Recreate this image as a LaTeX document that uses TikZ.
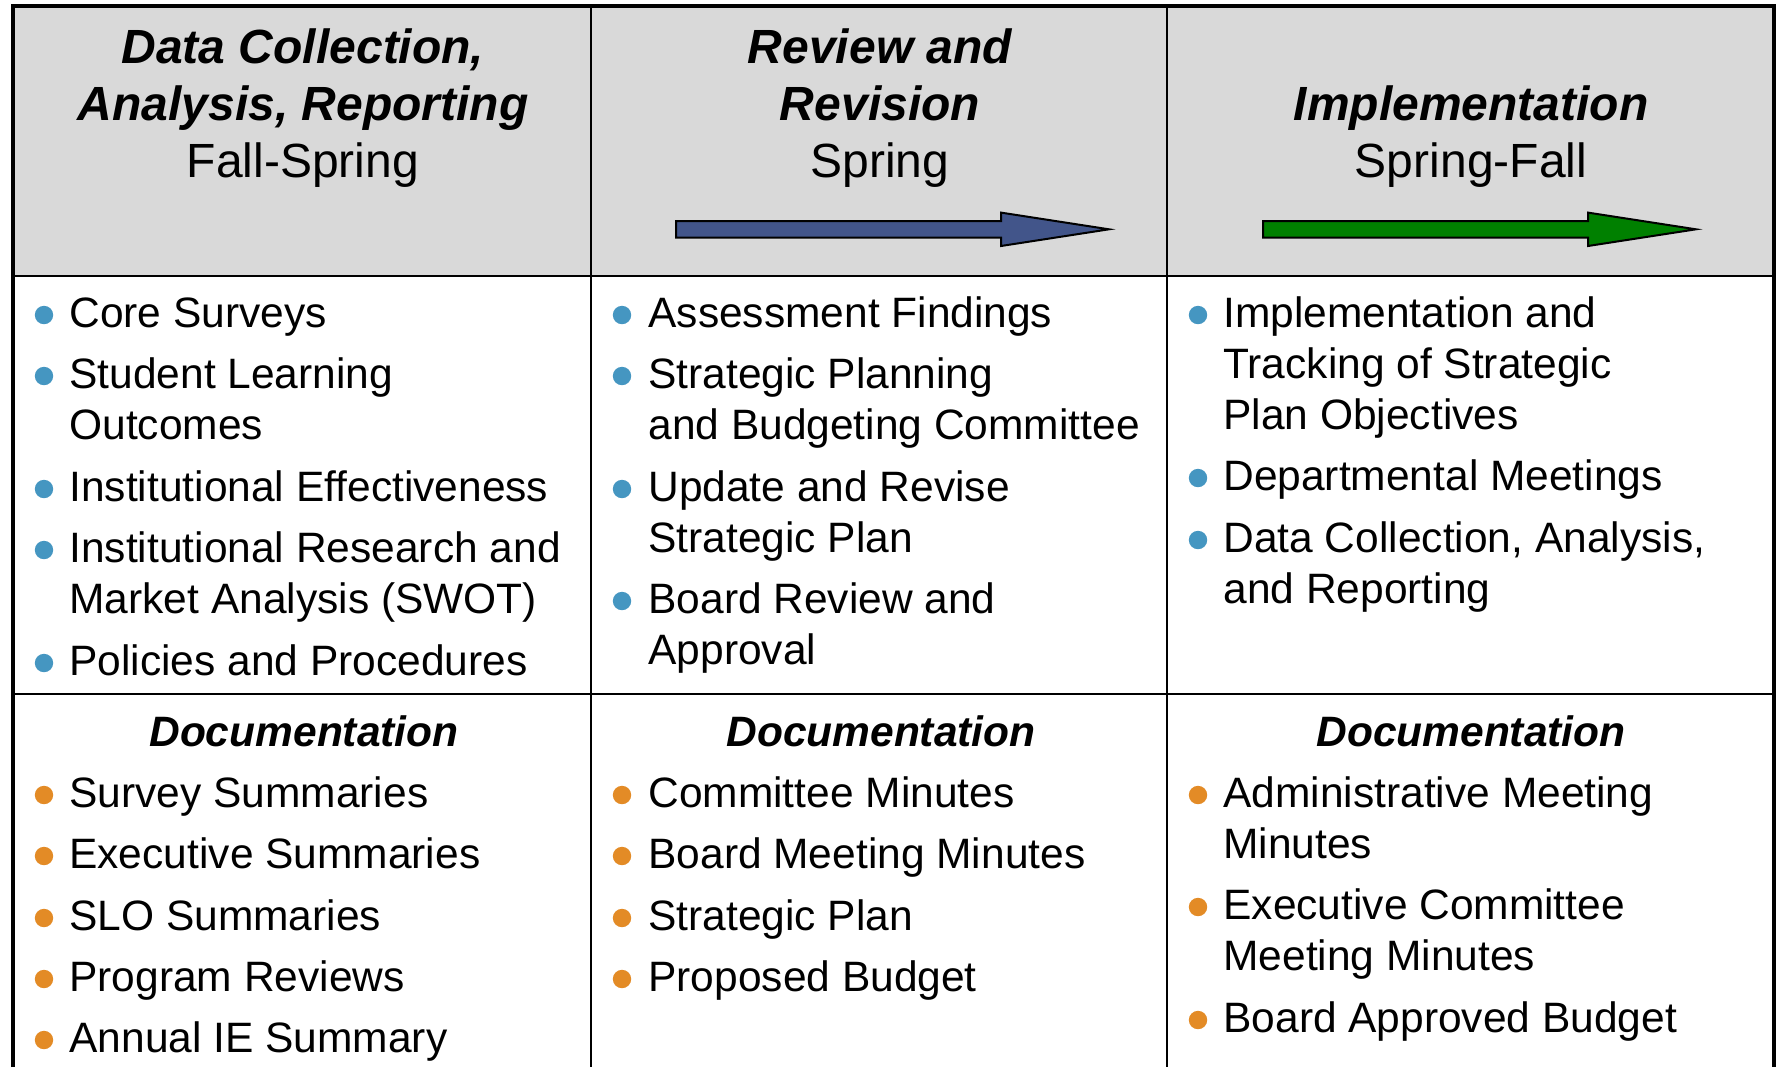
\documentclass[tikz,border=0pt]{standalone}
\usepackage{fontspec}
\setmainfont{Liberation Sans}

\definecolor{headgray}{HTML}{D9D9D9}
\definecolor{dotblue}{HTML}{4596C1}
\definecolor{dotorange}{HTML}{E38B26}
\definecolor{arrowblue}{HTML}{42558A}
\definecolor{arrowgreen}{HTML}{008000}

\begin{document}
\begin{tikzpicture}[x=0.5pt,y=-0.5pt,
    headtext/.style={font=\fontsize{24}{28.5}\selectfont,anchor=base,inner sep=0pt},
    itemtext/.style={font=\fontsize{21.25}{25.5}\selectfont,anchor=base west,inner sep=0pt},
    doctext/.style={font=\fontsize{21.25}{25.5}\selectfont\bfseries\itshape,anchor=base,inner sep=0pt}]
    \useasboundingbox (0,0) rectangle (1779,1067);

    % header band and grid
    \fill[headgray] (12.7,6) rectangle (1774,276);
    \draw[line width=1pt] (12.7,276) -- (1774,276);
    \draw[line width=1pt] (12.7,694) -- (1774,694);
    \draw[line width=1pt] (591,6) -- (591,1067);
    \draw[line width=1pt] (1167,6) -- (1167,1067);
    \draw[line width=2.2pt] (12.7,1067) -- (12.7,6) -- (1774,6) -- (1774,1067);

    % column titles
    \node[headtext] (dca) at (303,63) {\bfseries\itshape Data Collection,};
    \node[headtext] (dcb) at (303,120) {\bfseries\itshape Analysis, Reporting};
    \node[headtext] (dcc) at (303,177) {Fall-Spring};
    \node[headtext] (rra) at (880,63) {\bfseries\itshape Review and};
    \node[headtext] (rrb) at (880,120) {\bfseries\itshape Revision};
    \node[headtext] (rrc) at (880,177) {Spring};
    \node[headtext] (ima) at (1471,120) {\bfseries\itshape Implementation};
    \node[headtext] (imb) at (1471,177) {Spring-Fall};

    % block arrows
    \foreach \x/\c in {676/arrowblue,1263/arrowgreen}
        \filldraw[fill=\c,draw=black,line width=1pt] (\x,221) -- ++(325,0) -- ++(0,-8.4) -- ++(108,16.7)
            -- ++(-108,16.7) -- ++(0,-8.4) -- ++(-325,0) -- cycle;

    % steps
    \foreach \y/\txt [count=\i] in {327/Core Surveys,388/Student Learning,439/Outcomes,
        501/Institutional Effectiveness,562/Institutional Research and,613/Market Analysis (SWOT),
        675/Policies and Procedures}
        \node[itemtext] (dcitem\i) at (69,\y) {\txt};
    \foreach \y/\txt [count=\i] in {327/Assessment Findings,388/Strategic Planning,
        439/and Budgeting Committee,501/Update and Revise,552/Strategic Plan,613/Board Review and,
        664/Approval}
        \node[itemtext] (rritem\i) at (648,\y) {\txt};
    \foreach \y/\txt [count=\i] in {327/Implementation and,378/Tracking of Strategic,
        429/Plan Objectives,490/Departmental Meetings,552/{Data Collection, Analysis,},
        603/and Reporting}
        \node[itemtext] (imitem\i) at (1223,\y) {\txt};

    \foreach \y in {327,388,501,562,675} \fill[dotblue] (44,\y-12) circle (4.6pt);
    \foreach \y in {327,388,501,613} \fill[dotblue] (622,\y-12) circle (4.6pt);
    \foreach \y in {327,490,552} \fill[dotblue] (1198,\y-12) circle (4.6pt);

    % documentation
    \node[doctext] (dcdoc) at (304,746) {Documentation};
    \node[doctext] (rrdoc) at (881,746) {Documentation};
    \node[doctext] (imdoc) at (1471,746) {Documentation};

    \foreach \y/\txt [count=\i] in {807/Survey Summaries,868/Executive Summaries,930/SLO Summaries,
        991/Program Reviews,1052/Annual IE Summary}
        \node[itemtext] (dcdocitem\i) at (69,\y) {\txt};
    \foreach \y/\txt [count=\i] in {807/Committee Minutes,868/Board Meeting Minutes,
        930/Strategic Plan,991/Proposed Budget}
        \node[itemtext] (rrdocitem\i) at (648,\y) {\txt};
    \foreach \y/\txt [count=\i] in {807/Administrative Meeting,858/Minutes,919/Executive Committee,
        970/Meeting Minutes,1032/Board Approved Budget}
        \node[itemtext] (imdocitem\i) at (1223,\y) {\txt};

    \foreach \y in {807,868,930,991,1052} \fill[dotorange] (44,\y-12) circle (4.6pt);
    \foreach \y in {807,868,930,991} \fill[dotorange] (622,\y-12) circle (4.6pt);
    \foreach \y in {807,919,1032} \fill[dotorange] (1198,\y-12) circle (4.6pt);
\end{tikzpicture}
\end{document}
